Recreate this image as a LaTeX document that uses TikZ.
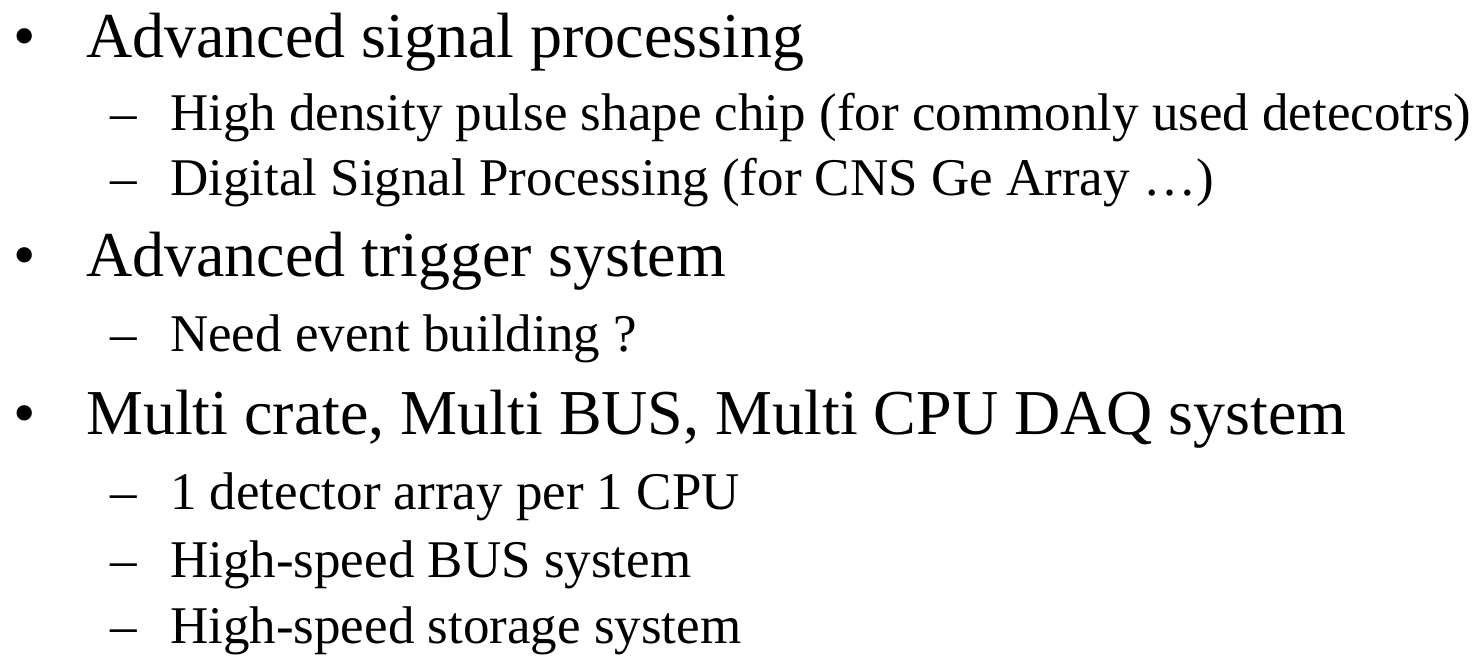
\documentclass[tikz,border=0pt]{standalone}
\usepackage{fontspec}
\setmainfont{Liberation Serif}
\begin{document}
\begin{tikzpicture}[x=1pt,y=1pt,
  mainitem/.style={anchor=base west,inner sep=0pt,font=\fontsize{64}{64}\selectfont},
  subitem/.style={anchor=base west,inner sep=0pt,font=\fontsize{53}{53}\selectfont}]
\useasboundingbox (0,0) rectangle (1483,-656);
\node[mainitem] (b1) at (13,-57) {•};
\node[mainitem] (t1) at (86,-57) {Advanced signal processing};
\node[subitem] (d1) at (110,-130) {–};
\node[subitem] (s1) at (170,-130) {High density pulse shape chip (for commonly used detecotrs)};
\node[subitem] (d2) at (110,-195) {–};
\node[subitem] (s2) at (170,-195) {Digital Signal Processing (for CNS Ge Array …)};
\node[mainitem] (b2) at (13,-276) {•};
\node[mainitem] (t2) at (86,-276) {Advanced trigger system};
\node[subitem] (d3) at (110,-351) {–};
\node[subitem] (s3) at (170,-351) {Need event building ?};
\node[mainitem] (b3) at (13,-434) {•};
\node[mainitem] (t3) at (86,-434) {Multi crate, Multi BUS, Multi CPU DAQ system};
\node[subitem] (d4) at (110,-509) {–};
\node[subitem] (s4) at (170,-509) {1 detector array per 1 CPU};
\node[subitem] (d5) at (110,-577) {–};
\node[subitem] (s5) at (170,-577) {High-speed BUS system};
\node[subitem] (d6) at (110,-643) {–};
\node[subitem] (s6) at (170,-643) {High-speed storage system};
\end{tikzpicture}
\end{document}
